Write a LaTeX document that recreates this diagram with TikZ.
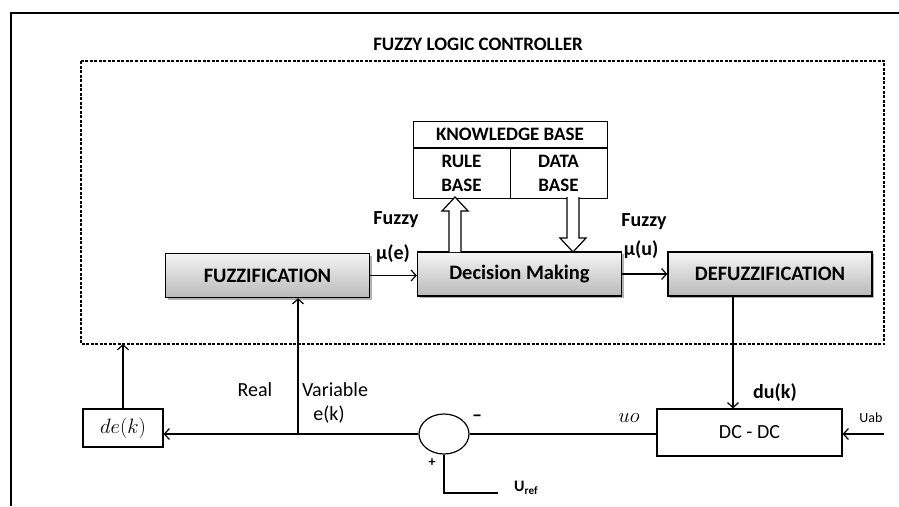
\documentclass[tikz,border=0pt]{standalone}
\usepackage{fontspec}
\setmainfont{Carlito}
\usetikzlibrary{arrows.meta,shadows,shapes.geometric}

\tikzset{
  arr/.style={line width=1.2pt,-{Straight Barb[length=5pt,width=11pt]}},
  blk/.style={draw,line width=1.3pt,inner sep=0pt,minimum width=204pt,minimum height=44pt,
    top color=gray!8,bottom color=gray!55,
    drop shadow={shadow xshift=2pt,shadow yshift=-2pt,fill=black!60},
    font=\bfseries\fontsize{20.5}{24}\selectfont},
  kbox/.style={draw,line width=1pt,inner sep=0pt,align=center,
    font=\bfseries\fontsize{19}{24}\selectfont},
  lbl/.style={inner sep=0pt,font=\fontsize{20}{24}\selectfont},
  blbl/.style={inner sep=0pt,font=\bfseries\fontsize{20}{24}\selectfont},
  pics/hup/.style={code={\draw[line width=1.2pt,fill=white] (-6,0) -- (-6,-41) -- (-13,-41) -- (0,-55) -- (13,-41) -- (6,-41) -- (6,0);}},
  pics/hdown/.style={code={\draw[line width=1.2pt,fill=white] (-6,0) -- (-6,41) -- (-13,41) -- (0,55) -- (13,41) -- (6,41) -- (6,0);}}
}

\begin{document}
\begin{tikzpicture}[x=1pt,y=-1pt]
\useasboundingbox (0,0) rectangle (899,506);
\draw[line width=1.5pt] (899,13) -- (11,13) -- (11,506);
\draw[line width=1.2pt,dash pattern=on 3pt off 1.5pt] (81,61) rectangle (884,344);
\node[blbl,font=\bfseries\fontsize{19}{22}\selectfont] (title) at (478,44) {FUZZY LOGIC CONTROLLER};

\node[blk] (fz) at (267.5,275.5) {FUZZIFICATION};
\node[blk] (dm) at (519.5,274) {Decision Making};
\node[blk] (df) at (770,274) {DEFUZZIFICATION};

\node[kbox,minimum width=194pt,minimum height=26pt] (kb) at (510,134) {KNOWLEDGE BASE};
\node[kbox,minimum width=97pt,minimum height=50pt,anchor=north west] (rule) at (kb.south west) {RULE\\BASE};
\node[kbox,minimum width=97pt,minimum height=50pt,anchor=north east] (data) at (kb.south east) {DATA\\BASE};

\coordinate (ua) at (455,252);
\coordinate (da) at (573,197);
\pic at (ua) {hup};
\pic at (da) {hdown};

\node[blbl] (fz1) at (396,220) {Fuzzy};
\node[blbl] (mue) at (393,254) {μ(e)};
\node[blbl] (fz2) at (644,222) {Fuzzy};
\node[blbl] (muu) at (641,250) {μ(u)};

\draw[arr] (fz.east) -- (fz.east -| dm.west);
\draw[arr] (dm.east) -- (df.west);

\node[draw,line width=1.2pt,minimum width=185pt,minimum height=47pt,inner sep=0pt,font=\fontsize{20}{24}\selectfont] (dc) at (749.5,432.5) {DC - DC};
\node[draw,line width=1.2pt,ellipse,minimum width=50pt,minimum height=40pt,inner sep=0pt] (sum) at (444,434) {};
\node[draw,line width=1.2pt,minimum width=80pt,minimum height=38pt,inner sep=0pt,font=\fontsize{21}{24}\selectfont] (dek) at (123,428) {$de(k)$};

\coordinate (dk) at (733,296);
\draw[arr] (dk) -- (dk |- dc.north);
\node[blbl] (duk) at (775,393) {du(k)};

\draw[line width=1.2pt] (dc.west |- sum.east) -- (sum.east);
\draw[arr] (sum.west) -- (sum.west -| dek.east);
\coordinate (j) at (298,434);
\draw[arr] (j) -- (j |- fz.south);
\coordinate (top) at (123,344);
\draw[arr] (dek.north) -- (top);

\coordinate (uab) at (884,434);
\draw[arr] (uab) -- (uab -| dc.east);
\node[lbl,font=\fontsize{14}{16}\selectfont] (uabl) at (871,418) {Uab};

\coordinate (ur) at (498,493);
\draw[line width=1.2pt] (sum.south) |- (ur);
\node[blbl,font=\bfseries\fontsize{16}{18}\selectfont,anchor=west] (url) at (514,488) {U\textsubscript{ref}};

\node[lbl] (uo) at (629,418) {$uo$};
\node[blbl] (mn) at (477,418) {--};
\node[blbl,font=\bfseries\fontsize{14}{16}\selectfont] (pl) at (432,463) {+};
\node[lbl] (real) at (255,390) {Real};
\node[lbl] (var) at (335,390) {Variable};
\node[lbl] (ek) at (329,415) {e(k)};
\end{tikzpicture}
\end{document}
